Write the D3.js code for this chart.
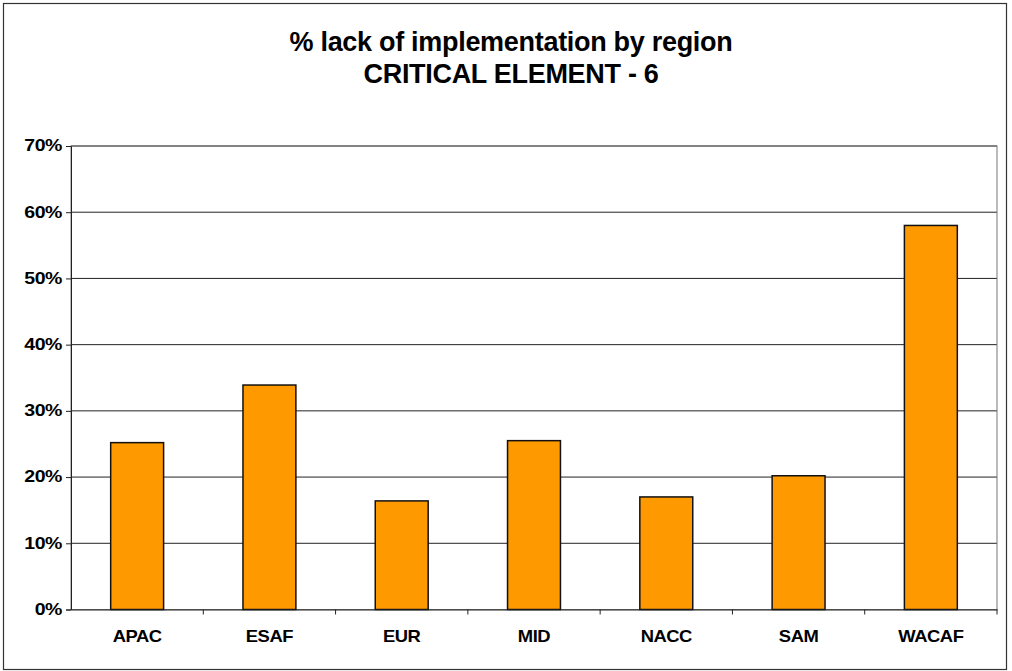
<!DOCTYPE html>
<html><head><meta charset="utf-8">
<script src="https://cdn.jsdelivr.net/npm/d3@7"></script>
<style>body{margin:0;background:#fff}svg{display:block}</style>
</head><body>
<script>
const categories = ["APAC","ESAF","EUR","MID","NACC","SAM","WACAF"];
const values = [0.252, 0.339, 0.164, 0.255, 0.170, 0.202, 0.580];
const yTicks = [0,0.1,0.2,0.3,0.4,0.5,0.6,0.7];
const titleLines = ["% lack of implementation by region","CRITICAL ELEMENT - 6"];

const W=1012,H=671;
const FONT="Liberation Sans, Arial, sans-serif";
const svg=d3.select("body").append("svg").attr("width",W).attr("height",H);
svg.append("rect").attr("x",3.5).attr("y",3.5).attr("width",1003).attr("height",666)
  .attr("fill","#fff").attr("stroke","#333").attr("stroke-width",1.2);

const m={l:71,r:997,t:146,b:609.5};
const x=d3.scaleBand().domain(categories).range([m.l,m.r]).paddingInner(0.6).paddingOuter(0.3);
const xb=d3.scaleBand().domain(categories).range([m.l,m.r]);
const y=d3.scaleLinear().domain([0,0.7]).range([m.b,m.t]);

// gridlines
svg.append("g").selectAll("line").data(yTicks.slice(1)).join("line")
  .attr("x1",m.l).attr("x2",m.r).attr("y1",d=>y(d)).attr("y2",d=>y(d))
  .attr("stroke","#222").attr("stroke-width",1);
// plot border
svg.append("rect").attr("x",m.l).attr("y",m.t).attr("width",m.r-m.l).attr("height",m.b-m.t)
  .attr("fill","none").attr("stroke","#777").attr("stroke-width",1);

// bars
svg.append("g").selectAll("rect").data(values).join("rect")
  .attr("x",(d,i)=>x(categories[i])).attr("width",x.bandwidth())
  .attr("y",d=>y(d)).attr("height",d=>m.b-y(d))
  .attr("fill","#FF9900").attr("stroke","#111").attr("stroke-width",1.5);

// y axis
const ya=svg.append("g").attr("transform",`translate(${m.l},0)`)
  .call(d3.axisLeft(y).tickValues(yTicks).tickFormat(d3.format(".0%")).tickSize(5));
ya.select(".domain").attr("stroke","#222");
ya.selectAll(".tick line").attr("stroke","#222");
ya.selectAll("text").attr("x",-7.5).attr("dy","0.3em").attr("transform","scale(1.22,1)")
  .attr("font-family",FONT).attr("font-weight","bold").attr("font-size",16)
  .attr("letter-spacing","-0.4px").attr("fill","#000");

// x axis
const xa=svg.append("g").attr("transform",`translate(0,${m.b})`)
  .call(d3.axisBottom(xb).tickSize(0));
xa.select(".domain").attr("stroke","#222");
xa.selectAll("text").attr("y",32.5).attr("dy",0).attr("transform","scale(1.15,1)")
  .attr("font-family",FONT).attr("font-weight","bold").attr("font-size",16)
  .attr("letter-spacing","-0.4px").attr("fill","#000");
svg.append("g").selectAll("line").data(categories.slice(1).concat(["__end"])).join("line")
  .attr("x1",(d,i)=>m.l+xb.step()*(i+1)).attr("x2",(d,i)=>m.l+xb.step()*(i+1))
  .attr("y1",m.b).attr("y2",m.b+5).attr("stroke","#222");

// title
svg.append("g").selectAll("text").data(titleLines).join("text")
  .attr("x",511).attr("y",(d,i)=>51+i*32).attr("text-anchor","middle")
  .attr("font-family",FONT).attr("font-weight","bold")
  .attr("font-size",27).attr("letter-spacing","-0.3px").attr("fill","#000").text(d=>d);
</script>
</body></html>
